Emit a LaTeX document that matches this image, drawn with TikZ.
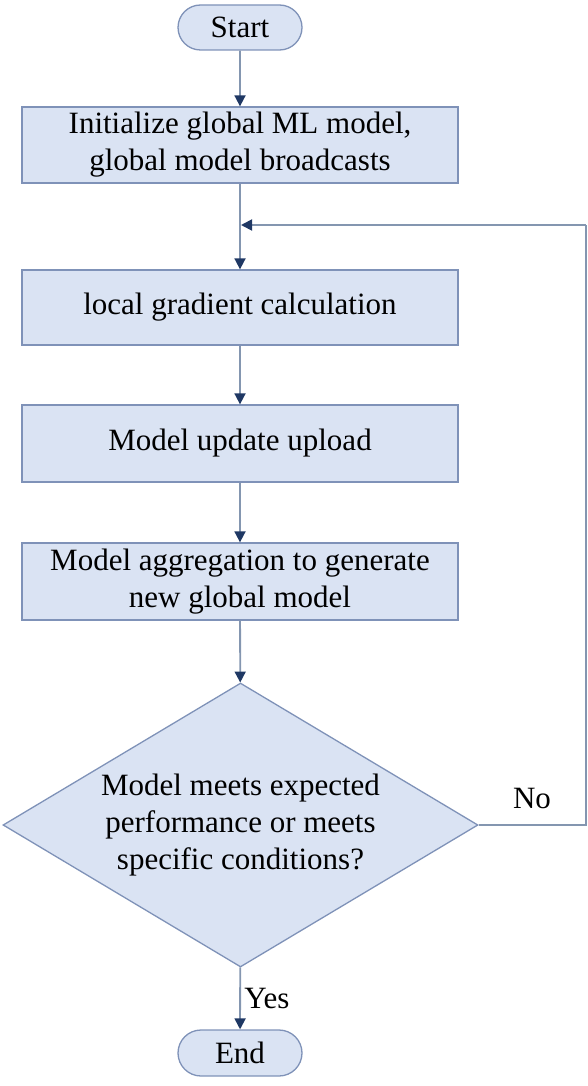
\documentclass[tikz,border=0pt]{standalone}
\usepackage{fontspec}
\newfontfamily\figfont{LiberationSerif}[Extension=.ttf, UprightFont=*-Regular]
\usetikzlibrary{arrows.meta,shapes.geometric,shapes.misc}
\definecolor{boxfill}{HTML}{DAE3F3}
\definecolor{boxdraw}{HTML}{7F92B8}
\definecolor{linec}{HTML}{8496B0}
\definecolor{tipc}{HTML}{1F3864}
\tikzset{
  base/.style={draw=boxdraw, fill=boxfill, line width=1.3pt, inner sep=0pt, align=center,
    font=\figfont\fontsize{31}{37}\selectfont},
  procbox/.style={base, rectangle, minimum width=436pt},
  termbox/.style={base, rounded rectangle, minimum width=124pt, minimum height=45pt},
  decbox/.style={base, diamond, aspect=1.68, minimum width=475pt, minimum height=284pt},
  conn/.style={draw=linec, line width=1.8pt, -{Triangle[length=11pt,width=11pt,color=tipc]}},
  plain/.style={draw=linec, line width=1.8pt},
  lab/.style={font=\figfont\fontsize{31}{37}\selectfont, inner sep=0pt}
}
\begin{document}
\begin{tikzpicture}[x=1pt,y=-1pt]
\useasboundingbox (0,0) rectangle (588,1086);
\node[termbox] (start) at (240,27.5) {Start};
\node[procbox, minimum height=76pt] (b1) at (240,145) {Initialize global ML model,\\global model broadcasts};
\node[procbox, minimum height=75pt] (b2) at (240,307.5) {local gradient calculation};
\node[procbox, minimum height=77pt] (b3) at (240,443.5) {Model update upload};
\node[procbox, minimum height=77pt] (b4) at (240,581.5) {Model aggregation to generate\\new global model};
\node[decbox] (dec) at (240.5,825) {Model meets expected\\performance or meets\\specific conditions?};
\node[termbox, minimum height=46pt] (end) at (240,1053) {End};
\coordinate (rt) at (586,225);
\coordinate (loop) at (241,225);
\draw[conn] (start) -- (b1);
\draw[conn] (b1) -- (b2);
\draw[conn] (b2) -- (b3);
\draw[conn] (b3) -- (b4);
\draw[conn] (b4) -- (dec);
\draw[conn] (dec) -- (end);
\draw[plain] (dec.east) -| (rt);
\draw[conn] (rt) -- (loop);
\node[lab] (no) at (532,798) {No};
\node[lab] (yes) at (267,998) {Yes};
\end{tikzpicture}
\end{document}
